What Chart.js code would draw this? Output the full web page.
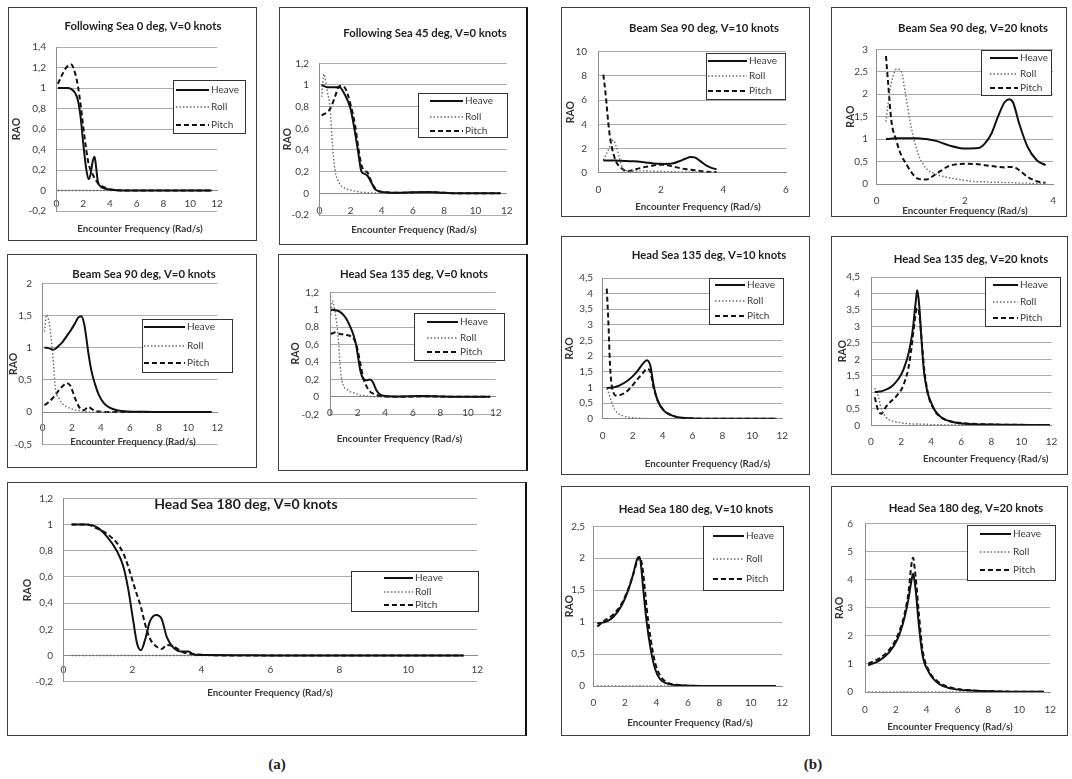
<!DOCTYPE html>
<html>
<head>
<meta charset="utf-8">
<title>RAO - encounter frequency</title>
<script src="https://cdn.jsdelivr.net/npm/chart.js@4.4.1/dist/chart.umd.min.js"></script>
<style>
  body { margin: 0; background: #fff; }
  #page { position: relative; width: 1072px; height: 779px; overflow: hidden; }
  .frame { position: absolute; box-sizing: border-box; border: 1px solid #3f3f3f; }
  .frame.dark-right { border-right: 2px solid #111; }
  .page-label { position: absolute; font: bold 15px "Liberation Serif", serif; color: #222; transform: translate(-50%, -50%); }
  canvas { position: absolute; }
</style>
</head>
<body>
<div id="page">
  <div class="page-label" style="left:277px; top:764px">(a)</div>
  <div class="page-label" style="left:813px; top:764px">(b)</div>
</div>
<script>
// values (x = encounter frequency in rad/s, y = RAO)

// Following Sea 0 deg, V=0
const a1Freq  = [0.1, 0.5, 0.8, 1.1, 1.4, 1.6, 1.8, 2.0, 2.2, 2.4, 2.55, 2.7, 2.85, 2.95, 3.1, 3.3, 3.6, 4.0, 5, 7, 9, 11.6];
const a1Heave = [1.0, 1.0, 1.0, 0.99, 0.95, 0.88, 0.72, 0.46, 0.23, 0.11, 0.16, 0.28, 0.33, 0.24, 0.08, 0.04, 0.02, 0.01, 0, 0, 0, 0];
const a1Roll  = [0, 0, 0, 0, 0, 0, 0, 0, 0, 0, 0, 0, 0, 0, 0, 0, 0, 0, 0, 0, 0, 0];
const a1Pitch = [1.04, 1.15, 1.21, 1.23, 1.14, 1.02, 0.84, 0.62, 0.42, 0.26, 0.2, 0.16, 0.12, 0.1, 0.07, 0.05, 0.03, 0.01, 0, 0, 0, 0];

// Following Sea 45 deg, V=0
const a2Freq  = [0.15, 0.3, 0.5, 0.7, 0.85, 1.0, 1.3, 1.6, 2.0, 2.3, 2.5, 2.7, 2.9, 3.1, 3.3, 3.55, 3.8, 4.2, 5, 6, 7, 8, 9, 11.6];
const a2Heave = [1.0, 0.99, 0.98, 0.98, 0.98, 0.98, 0.98, 0.92, 0.78, 0.55, 0.37, 0.2, 0.18, 0.16, 0.11, 0.04, 0.02, 0.01, 0.005, 0.01, 0.012, 0.005, 0, 0];
const a2Roll  = [0.89, 1.1, 0.95, 0.77, 0.43, 0.22, 0.09, 0.05, 0.03, 0.02, 0.015, 0.01, 0.008, 0.006, 0.004, 0.003, 0.002, 0.001, 0, 0, 0, 0, 0, 0];
const a2Pitch = [0.72, 0.73, 0.75, 0.78, 0.83, 0.89, 0.99, 0.98, 0.82, 0.62, 0.42, 0.26, 0.21, 0.19, 0.12, 0.05, 0.02, 0.01, 0.005, 0.008, 0.01, 0.005, 0, 0];

// Beam Sea 90 deg, V=0
const a3Freq  = [0.12, 0.27, 0.45, 0.7, 0.85, 1.15, 1.4, 1.65, 1.9, 2.2, 2.45, 2.65, 2.85, 3.0, 3.15, 3.35, 3.6, 3.85, 4.2, 4.6, 5.1, 5.8, 7, 9, 11.6];
const a3Heave = [1.0, 1.0, 0.99, 0.97, 0.98, 1.04, 1.1, 1.18, 1.26, 1.37, 1.47, 1.49, 1.37, 1.15, 0.9, 0.64, 0.43, 0.27, 0.14, 0.07, 0.03, 0.01, 0.005, 0, 0];
const a3Roll  = [1.25, 1.51, 1.38, 0.87, 0.41, 0.2, 0.12, 0.08, 0.06, 0.035, 0.025, 0.02, 0.01, 0.005, 0, 0, 0, 0, 0, 0, 0, 0, 0, 0, 0];
const a3Pitch = [0.11, 0.13, 0.16, 0.22, 0.26, 0.35, 0.41, 0.45, 0.41, 0.23, 0.1, 0.04, 0.03, 0.06, 0.08, 0.05, 0.02, 0.01, 0.005, 0, 0, 0, 0, 0, 0];

// Head Sea 135 deg, V=0
const a4Freq  = [0.07, 0.17, 0.36, 0.6, 0.77, 0.97, 1.2, 1.45, 1.7, 1.9, 2.05, 2.2, 2.4, 2.65, 2.9, 3.1, 3.35, 3.6, 4.0, 5, 6, 7, 8, 9, 11.6];
const a4Heave = [1.0, 1.0, 0.995, 0.985, 0.97, 0.94, 0.89, 0.81, 0.71, 0.59, 0.44, 0.3, 0.21, 0.19, 0.2, 0.17, 0.08, 0.03, 0.01, 0.005, 0.008, 0.01, 0.005, 0, 0];
const a4Roll  = [0.94, 1.1, 0.98, 0.67, 0.29, 0.13, 0.09, 0.06, 0.045, 0.035, 0.03, 0.02, 0.015, 0.01, 0.005, 0.003, 0, 0, 0, 0, 0, 0, 0, 0, 0];
const a4Pitch = [0.72, 0.73, 0.74, 0.73, 0.72, 0.72, 0.71, 0.7, 0.67, 0.6, 0.5, 0.38, 0.22, 0.12, 0.06, 0.04, 0.025, 0.01, 0.005, 0, 0.003, 0.005, 0.003, 0, 0];

// Head Sea 180 deg, V=0
const a5Freq  = [0.24, 0.68, 0.97, 1.26, 1.55, 1.74, 1.88, 2.03, 2.14, 2.25, 2.37, 2.51, 2.69, 2.85, 3.0, 3.19, 3.43, 3.62, 3.82, 4.2, 5, 6, 8, 10, 11.6];
const a5Heave = [1.0, 1.0, 0.98, 0.91, 0.8, 0.68, 0.51, 0.26, 0.09, 0.04, 0.12, 0.26, 0.31, 0.28, 0.14, 0.06, 0.03, 0.03, 0.005, 0.003, 0.002, 0, 0, 0, 0];
const a5Roll  = [0, 0, 0, 0, 0, 0, 0, 0, 0, 0, 0, 0, 0, 0, 0, 0, 0, 0, 0, 0, 0, 0, 0, 0, 0];
const a5Pitch = [1.0, 1.0, 0.97, 0.93, 0.86, 0.78, 0.68, 0.55, 0.46, 0.37, 0.24, 0.13, 0.07, 0.05, 0.08, 0.07, 0.03, 0.015, 0.01, 0.003, 0, 0, 0, 0, 0];

// Beam Sea 90 deg, V=10
const b1Freq  = [0.16, 0.23, 0.32, 0.37, 0.43, 0.48, 0.57, 0.66, 0.75, 0.9, 1.12, 1.33, 1.55, 1.76, 1.97, 2.19, 2.4, 2.61, 2.78, 2.95, 3.1, 3.25, 3.46, 3.62, 3.78];
const b1Heave = [1.0, 1.0, 1.0, 1.0, 1.0, 1.0, 1.0, 0.99, 0.98, 0.97, 0.94, 0.9, 0.83, 0.77, 0.73, 0.72, 0.78, 0.97, 1.15, 1.3, 1.25, 0.98, 0.58, 0.4, 0.28];
const b1Roll  = [1.05, 1.4, 1.9, 2.2, 2.55, 2.7, 2.2, 1.4, 0.5, 0.17, 0.12, 0.15, 0.14, 0.12, 0.1, 0.09, 0.08, 0.07, 0.07, 0.06, 0.06, 0.06, 0.05, 0.05, 0.05];
const b1Pitch = [8.1, 6.6, 4.1, 3.0, 2.15, 1.6, 0.9, 0.55, 0.36, 0.1, 0.22, 0.38, 0.5, 0.6, 0.66, 0.62, 0.5, 0.38, 0.3, 0.24, 0.2, 0.15, 0.08, 0.06, 0.05];

// Beam Sea 90 deg, V=20
const b2Freq  = [0.21, 0.26, 0.33, 0.45, 0.56, 0.65, 0.78, 0.93, 1.12, 1.34, 1.64, 2.01, 2.3, 2.45, 2.6, 2.75, 2.9, 3.0, 3.09, 3.23, 3.42, 3.63, 3.83];
const b2Heave = [1.0, 1.0, 1.01, 1.02, 1.02, 1.02, 1.02, 1.02, 1.0, 0.96, 0.86, 0.79, 0.8, 0.9, 1.12, 1.5, 1.82, 1.89, 1.82, 1.35, 0.83, 0.53, 0.42];
const b2Roll  = [1.39, 1.8, 2.24, 2.56, 2.5, 2.02, 1.28, 0.7, 0.35, 0.22, 0.14, 0.08, 0.05, 0.05, 0.04, 0.04, 0.03, 0.03, 0.03, 0.02, 0.02, 0.01, 0.01];
const b2Pitch = [2.85, 2.24, 1.43, 0.95, 0.63, 0.48, 0.27, 0.12, 0.1, 0.22, 0.4, 0.45, 0.44, 0.42, 0.4, 0.38, 0.37, 0.38, 0.38, 0.31, 0.16, 0.06, 0.03];

// Head Sea 135 deg, V=10
const b3Freq  = [0.27, 0.38, 0.49, 0.6, 0.71, 0.82, 1.0, 1.2, 1.7, 2.27, 2.7, 2.95, 3.18, 3.4, 3.68, 4.1, 4.65, 5.3, 6.1, 8, 10, 11.6];
const b3Heave = [0.98, 0.985, 0.99, 0.99, 1.0, 1.01, 1.04, 1.08, 1.23, 1.49, 1.77, 1.87, 1.7, 1.07, 0.57, 0.25, 0.1, 0.03, 0.01, 0, 0, 0];
const b3Roll  = [0.96, 0.85, 0.69, 0.52, 0.37, 0.28, 0.18, 0.12, 0.05, 0.02, 0.01, 0.005, 0, 0, 0, 0, 0, 0, 0, 0, 0, 0];
const b3Pitch = [4.16, 3.09, 1.71, 1.07, 0.85, 0.75, 0.74, 0.76, 0.91, 1.23, 1.47, 1.6, 1.5, 1.0, 0.58, 0.26, 0.1, 0.02, 0.005, 0, 0, 0];

// Head Sea 135 deg, V=20
const b4Freq  = [0.25, 0.47, 0.68, 0.99, 1.31, 1.6, 1.84, 2.05, 2.26, 2.48, 2.65, 2.79, 2.9, 3.0, 3.07, 3.15, 3.24, 3.32, 3.43, 3.53, 3.75, 3.9, 4.17, 4.4, 4.8, 5.2, 5.65, 6.5, 8.6, 11.9];
const b4Heave = [1.01, 1.02, 1.03, 1.08, 1.16, 1.28, 1.42, 1.58, 1.82, 2.15, 2.53, 2.95, 3.44, 3.85, 4.1, 3.9, 3.44, 2.85, 2.12, 1.6, 1.01, 0.8, 0.51, 0.36, 0.2, 0.13, 0.08, 0.04, 0.02, 0.01];
const b4Roll  = [1.13, 0.91, 0.51, 0.25, 0.15, 0.11, 0.09, 0.07, 0.06, 0.05, 0.045, 0.04, 0.04, 0.04, 0.04, 0.035, 0.035, 0.035, 0.03, 0.03, 0.03, 0.025, 0.02, 0.02, 0.015, 0.01, 0.01, 0.005, 0, 0];
const b4Pitch = [0.85, 0.46, 0.35, 0.56, 0.72, 0.84, 0.97, 1.11, 1.35, 1.72, 2.2, 2.73, 3.15, 3.48, 3.55, 3.54, 3.25, 2.83, 2.25, 1.72, 1.05, 0.76, 0.5, 0.34, 0.2, 0.13, 0.09, 0.05, 0.02, 0.01];

// Head Sea 180 deg, V=10
const b5Freq  = [0.25, 0.74, 1.27, 1.8, 2.22, 2.54, 2.79, 2.9, 3.0, 3.17, 3.39, 3.64, 3.92, 4.23, 4.66, 5.5, 7, 9, 11.6];
const b5Heave = [0.98, 1.0, 1.08, 1.26, 1.5, 1.76, 1.99, 2.02, 1.95, 1.52, 1.0, 0.58, 0.27, 0.11, 0.04, 0.01, 0, 0, 0];
const b5Roll  = [0, 0, 0, 0, 0, 0, 0, 0, 0, 0, 0, 0, 0, 0, 0, 0, 0, 0, 0];
const b5Pitch = [0.93, 1.03, 1.12, 1.29, 1.52, 1.75, 1.96, 2.02, 2.0, 1.76, 1.22, 0.74, 0.37, 0.17, 0.06, 0.015, 0, 0, 0];

// Head Sea 180 deg, V=20
const b6Freq  = [0.21, 0.95, 1.59, 2.12, 2.54, 2.82, 3.03, 3.12, 3.2, 3.3, 3.49, 3.73, 4.13, 4.76, 5.61, 6.88, 8.57, 10, 11.6];
const b6Heave = [0.95, 1.13, 1.43, 1.9, 2.61, 3.33, 4.04, 4.22, 4.0, 3.55, 2.38, 1.31, 0.71, 0.3, 0.12, 0.05, 0.02, 0.01, 0.01];
const b6Roll  = [0, 0, 0, 0, 0, 0, 0, 0, 0, 0, 0, 0, 0, 0, 0, 0, 0, 0, 0];
const b6Pitch = [1.01, 1.21, 1.52, 2.02, 2.73, 3.56, 4.63, 4.79, 4.5, 4.0, 2.8, 1.5, 0.77, 0.36, 0.15, 0.06, 0.02, 0.01, 0.01];

const seriesNames = ['Heave', 'Roll', 'Pitch'];
const xTitle = 'Encounter Frequency (Rad/s)';

// page layout of each small chart (page pixels)
const panels = [
  { title: 'Following Sea 0 deg, V=0 knots', freq: a1Freq, vals: [a1Heave, a1Roll, a1Pitch],
    box: [8, 7, 249, 234], plot: [56.5, 47, 217, 211], y: [-0.2, 1.4, 0.2], x: [12, 2],
    titleAt: [143, 26], xTitleAt: [140, 229], tickY: 204, yLabRight: 46, raoX: 16,
    legend: [173, 80, 72, 53], rows: [90, 107, 125], sample: [176, 209] },
  { title: 'Following Sea 45 deg, V=0 knots', freq: a2Freq, vals: [a2Heave, a2Roll, a2Pitch],
    box: [279, 7, 249, 238], plot: [319.3, 63.3, 506.7, 215], y: [-0.2, 1.2, 0.2], x: [12, 2],
    titleAt: [425, 33], xTitleAt: [414, 230], tickY: 211, yLabRight: 309, raoX: 287,
    legend: [418, 93, 89, 44], rows: [101, 117, 131], sample: [430, 463], darkRight: true },
  { title: 'Beam Sea 90 deg, V=0 knots', freq: a3Freq, vals: [a3Heave, a3Roll, a3Pitch],
    box: [7, 254, 250, 214], plot: [42.7, 283.3, 217.3, 444.3], y: [-0.5, 2, 0.5], x: [12, 2],
    titleAt: [144, 274], xTitleAt: [133, 442], tickY: 428, yLabRight: 32, raoX: 13,
    legend: [142, 319, 90, 53], rows: [327, 346, 363], sample: [144, 185] },
  { title: 'Head Sea 135 deg, V=0 knots', freq: a4Freq, vals: [a4Heave, a4Roll, a4Pitch],
    box: [278, 254, 250, 217], plot: [330, 292.3, 495.7, 414.3], y: [-0.2, 1.2, 0.2], x: [12, 2],
    titleAt: [414, 274], xTitleAt: [399.5, 439], tickY: 413, yLabRight: 319, raoX: 295,
    legend: [414, 313, 90, 47], rows: [322, 338, 352], sample: [427, 458], darkRight: true },
  { title: 'Head Sea 180 deg, V=0 knots', freq: a5Freq, vals: [a5Heave, a5Roll, a5Pitch],
    box: [7, 482, 520, 254], plot: [63.3, 491, 477.3, 681.7], y: [-0.2, 1.2, 0.2], x: [12, 2],
    titleAt: [246, 504], titleSize: 14, xTitleAt: [270, 693], tickY: 669, yLabRight: 53, raoX: 27,
    legend: [351, 571, 127, 40], rows: [578, 592, 605], sample: [384, 413], darkRight: true },
  { title: 'Beam Sea 90 deg, V=10 knots', freq: b1Freq, vals: [b1Heave, b1Roll, b1Pitch],
    box: [561, 7, 249, 210], plot: [598.3, 51.7, 786, 172.7], y: [0, 10, 2], x: [6, 2],
    titleAt: [704, 28], xTitleAt: [698, 207], tickY: 190, yLabRight: 587, raoX: 570,
    legend: [706, 53, 79, 46], rows: [61, 76, 91], sample: [708, 747] },
  { title: 'Beam Sea 90 deg, V=20 knots', freq: b2Freq, vals: [b2Heave, b2Roll, b2Pitch],
    box: [831, 7, 236, 210], plot: [876.7, 49.3, 1056, 184], y: [0, 3, 0.5], x: [4, 2],
    titleAt: [973, 28], xTitleAt: [965, 211], tickY: 201, yLabRight: 868, raoX: 850,
    legend: [981, 50, 70, 45], rows: [58, 74, 88], sample: [990, 1018] },
  { title: 'Head Sea 135 deg, V=10 knots', freq: b3Freq, vals: [b3Heave, b3Roll, b3Pitch],
    box: [561, 236, 249, 239], plot: [602.7, 278, 782.3, 418.7], y: [0, 4.5, 0.5], x: [12, 2],
    titleAt: [709, 255], xTitleAt: [707.5, 464], tickY: 436, yLabRight: 593, raoX: 569,
    legend: [709, 278, 74, 46], rows: [285, 301, 316], sample: [715, 745] },
  { title: 'Head Sea 135 deg, V=20 knots', freq: b4Freq, vals: [b4Heave, b4Roll, b4Pitch],
    box: [831, 236, 237, 239], plot: [871, 277, 1060, 425.3], y: [0, 4.5, 0.5], x: [12, 2],
    titleAt: [971, 259], xTitleAt: [985.7, 459], tickY: 442, yLabRight: 860, raoX: 842,
    legend: [985, 277, 75, 49], rows: [285, 302, 318], sample: [993, 1018] },
  { title: 'Head Sea 180 deg, V=10 knots', freq: b5Freq, vals: [b5Heave, b5Roll, b5Pitch],
    box: [561, 486, 249, 250], plot: [593.3, 526.3, 782.3, 686], y: [0, 2.5, 0.5], x: [12, 2],
    titleAt: [696, 509], xTitleAt: [690, 723], tickY: 703, yLabRight: 585, raoX: 569,
    legend: [703, 526, 80, 64], rows: [536, 559, 579], sample: [713, 744] },
  { title: 'Head Sea 180 deg, V=20 knots', freq: b6Freq, vals: [b6Heave, b6Roll, b6Pitch],
    box: [831, 486, 237, 250], plot: [865, 523.7, 1054, 692], y: [0, 6, 1], x: [12, 2],
    titleAt: [966, 508], xTitleAt: [950, 727], tickY: 710, yLabRight: 853, raoX: 839,
    legend: [967, 525, 88, 55], rows: [534, 552, 570], sample: [980, 1011] }
];

const FONT = 'Lato, "Liberation Sans", sans-serif';
Chart.defaults.font.family = FONT;

const lineStyles = [
  { borderColor: '#111', borderWidth: 2, borderDash: [] },
  { borderColor: '#6a6a6a', borderWidth: 1.4, borderDash: [1.5, 2] },
  { borderColor: '#111', borderWidth: 2, borderDash: [5, 3] }
];

const fmt = v => String(Math.round(v * 100) / 100).replace('.', ',');

// chart title, x caption and the framed legend are drawn on top of the plot
function panelText(p) {
  return {
    id: 'panelText',
    afterDraw(chart) {
      const ctx = chart.ctx;
      const ox = p.box[0], oy = p.box[1];
      ctx.save();
      ctx.textAlign = 'center';
      ctx.textBaseline = 'middle';
      ctx.fillStyle = '#1e1e1e';
      ctx.font = `bold ${p.titleSize || 11.3}px ${FONT}`;
      ctx.fillText(p.title, p.titleAt[0] - ox, p.titleAt[1] - oy);
      ctx.fillStyle = '#383838';
      ctx.font = `bold 9.8px ${FONT}`;
      ctx.fillText(xTitle, p.xTitleAt[0] - ox, p.xTitleAt[1] - oy);

      const [lx, ly, lw, lh] = p.legend;
      ctx.fillStyle = '#fff';
      ctx.fillRect(lx - ox, ly - oy, lw, lh);
      ctx.strokeStyle = '#333';
      ctx.lineWidth = 1;
      ctx.strokeRect(Math.round(lx - ox) + 0.5, Math.round(ly - oy) + 0.5, lw, lh);
      ctx.textAlign = 'left';
      ctx.font = `10px ${FONT}`;
      chart.data.datasets.forEach((ds, i) => {
        const y = p.rows[i] - oy;
        ctx.beginPath();
        ctx.setLineDash(ds.borderDash);
        ctx.strokeStyle = ds.borderColor;
        ctx.lineWidth = ds.borderWidth;
        ctx.moveTo(p.sample[0] - ox, y);
        ctx.lineTo(p.sample[1] - ox, y);
        ctx.stroke();
        ctx.setLineDash([]);
        ctx.fillStyle = '#3a3a3a';
        ctx.fillText(ds.label, p.sample[1] + 2 - ox, y);
      });
      ctx.restore();
    }
  };
}

const page = document.getElementById('page');

panels.forEach(p => {
  const [bx, by, bw, bh] = p.box;
  const [pl, pt, pr, pb] = p.plot;
  const zeroY = pb - (0 - p.y[0]) / (p.y[1] - p.y[0]) * (pb - pt);

  const frame = document.createElement('div');
  frame.className = p.darkRight ? 'frame dark-right' : 'frame';
  frame.style.cssText = `left:${bx}px;top:${by}px;width:${bw}px;height:${bh}px`;
  page.appendChild(frame);

  const canvas = document.createElement('canvas');
  canvas.width = bw;
  canvas.height = bh;
  canvas.style.cssText = `left:${bx}px;top:${by}px;width:${bw}px;height:${bh}px`;
  page.appendChild(canvas);

  const datasets = seriesNames.map((name, i) => ({
    label: name,
    data: p.freq.map((f, j) => ({ x: f, y: p.vals[i][j] })),
    ...lineStyles[i],
    fill: false,
    pointRadius: 0,
    cubicInterpolationMode: 'monotone'
  }));

  new Chart(canvas, {
    type: 'line',
    data: { datasets },
    options: {
      responsive: false,
      animation: false,
      events: [],
      layout: { padding: { left: 0, top: pt - by, right: bx + bw - pr, bottom: by + bh - pb } },
      plugins: { legend: { display: false }, tooltip: { enabled: false } },
      scales: {
        x: {
          type: 'linear',
          position: { y: 0 },
          min: 0,
          max: p.x[0],
          ticks: { stepSize: p.x[1], padding: p.tickY - zeroY - 6,
                   color: '#404040', font: { size: 10 }, maxRotation: 0, callback: fmt },
          grid: { display: false, drawTicks: false },
          border: { color: '#8c8c8c' }
        },
        y: {
          min: p.y[0],
          max: p.y[1],
          ticks: { stepSize: p.y[2], padding: pl - p.yLabRight, color: '#404040', font: { size: 10 }, callback: fmt },
          grid: { color: '#ababab', drawTicks: false },
          border: { color: '#8c8c8c' },
          title: { display: true, text: 'RAO', color: '#333', font: { size: 10.5, weight: 'bold' },
                   padding: { top: p.raoX - bx - 6, bottom: 0 } },
          afterFit: s => { s.width = pl - bx; }
        }
      }
    },
    plugins: [panelText(p)]
  });
});
</script>
</body>
</html>
